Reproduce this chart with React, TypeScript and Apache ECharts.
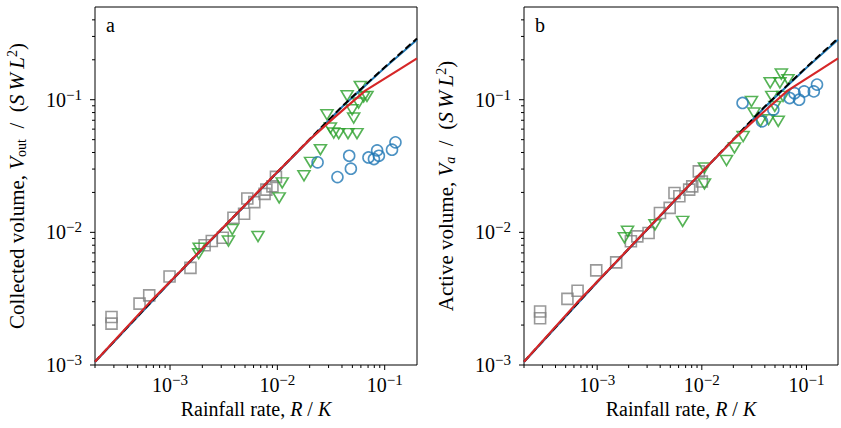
import React, { useEffect, useRef } from 'react';
import * as echarts from 'echarts';

const FONT = '"Liberation Serif", "Times New Roman", serif';

const X_MIN = 2e-4;
const X_MAX = 0.2;
const Y_MIN = 1e-3;
const Y_MAX = 0.5;

// panel a: collected volume
const aSquares = [
  [2.85e-4, 2.3e-3], [2.85e-4, 2.05e-3], [5.2e-4, 2.9e-3], [6.4e-4, 3.35e-3], [9.9e-4, 4.65e-3],
  [1.55e-3, 5.4e-3], [2.1e-3, 8.0e-3], [2.45e-3, 8.6e-3], [3.1e-3, 9.1e-3], [3.9e-3, 0.0129],
  [4.9e-3, 0.0138], [5.25e-3, 0.018], [6.1e-3, 0.0169], [7.6e-3, 0.0195], [7.9e-3, 0.021],
  [9.0e-3, 0.0222], [9.7e-3, 0.0262],
];
const aTriangles = [
  [1.87e-3, 7.6e-3], [1.85e-3, 6.9e-3], [3.5e-3, 8.6e-3], [3.8e-3, 0.0105], [6.6e-3, 9.3e-3],
  [0.0104, 0.0182], [0.0111, 0.0236], [0.0177, 0.0267], [0.0204, 0.0337], [0.0252, 0.042],
  [0.029, 0.077], [0.0312, 0.0612], [0.0335, 0.0561], [0.0373, 0.0555], [0.0455, 0.0555],
  [0.0552, 0.0555], [0.0447, 0.107], [0.0497, 0.084], [0.0514, 0.0728], [0.0593, 0.126],
  [0.0637, 0.105], [0.0571, 0.0944], [0.0684, 0.106],
];
const aCircles = [
  [0.0237, 0.0337], [0.0363, 0.0261], [0.0467, 0.0378], [0.0484, 0.0302], [0.0706, 0.0367],
  [0.085, 0.0415], [0.0883, 0.0378], [0.0794, 0.0357], [0.117, 0.042], [0.126, 0.0477],
];

// panel b: active volume
const bSquares = [
  [2.85e-4, 2.53e-3], [2.85e-4, 2.25e-3], [5.2e-4, 3.15e-3], [6.5e-4, 3.63e-3], [9.8e-4, 5.17e-3],
  [1.52e-3, 5.94e-3], [2.1e-3, 8.56e-3], [2.42e-3, 9.33e-3], [3.1e-3, 9.9e-3], [3.98e-3, 0.014],
  [4.93e-3, 0.0153], [5.48e-3, 0.0198], [6.1e-3, 0.0187], [7.57e-3, 0.021], [8.1e-3, 0.0222],
  [9.36e-3, 0.0288], [1.0e-2, 0.0242],
];
const bTriangles = [
  [1.95e-3, 0.0102], [1.82e-3, 9.1e-3], [3.57e-3, 0.0114], [6.56e-3, 0.0121], [0.0106, 0.0306],
  [0.0106, 0.0232], [0.0172, 0.0348], [0.0205, 0.0433], [0.0248, 0.0528], [0.0298, 0.097],
  [0.0315, 0.0794], [0.0363, 0.0687], [0.0434, 0.0707], [0.0537, 0.0687], [0.045, 0.134],
  [0.0575, 0.156], [0.0466, 0.106], [0.0557, 0.134], [0.0498, 0.089], [0.0665, 0.1416],
  [0.0597, 0.106],
];
const bCircles = [
  [0.0245, 0.0945], [0.0376, 0.0687], [0.0482, 0.084], [0.069, 0.103], [0.0768, 0.112],
  [0.085, 0.1], [0.095, 0.1155], [0.1175, 0.1155], [0.126, 0.13],
];

// model curves
const blackFit = [
  [2e-4, 1.06e-3], [1e-3, 4.24e-3], [1e-2, 0.0285], [0.04, 0.089], [0.1, 0.176], [0.2, 0.29],
];
const blueFit = [
  [2e-4, 1.05e-3], [1e-3, 4.2e-3], [1e-2, 0.0283], [0.04, 0.088], [0.1, 0.174], [0.2, 0.283],
];
const redFit = [
  [2e-4, 1.06e-3], [6.4e-4, 2.94e-3], [1e-3, 4.24e-3], [1e-2, 0.0285], [0.02, 0.05],
  [0.033, 0.072], [0.066, 0.117], [0.135, 0.168], [0.2, 0.205],
];

const xMajorTicks = [1e-3, 1e-2, 1e-1];
const xMinorTicks = [
  2e-4, 3e-4, 4e-4, 5e-4, 6e-4, 7e-4, 8e-4, 9e-4,
  2e-3, 3e-3, 4e-3, 5e-3, 6e-3, 7e-3, 8e-3, 9e-3,
  2e-2, 3e-2, 4e-2, 5e-2, 6e-2, 7e-2, 8e-2, 9e-2,
];
const yMajorTicks = [1e-3, 1e-2, 1e-1];
const yMinorTicks = [
  2e-3, 3e-3, 4e-3, 5e-3, 6e-3, 7e-3, 8e-3, 9e-3,
  2e-2, 3e-2, 4e-2, 5e-2, 6e-2, 7e-2, 8e-2, 9e-2,
  2e-1, 3e-1, 4e-1,
];

// [x, y, kind (0 = x axis, 1 = y axis), length]
const tickData = [
  ...xMajorTicks.map((v) => [v, Y_MIN, 0, 5]),
  ...xMinorTicks.map((v) => [v, Y_MIN, 0, 3]),
  ...yMajorTicks.map((v) => [X_MIN, v, 1, 5]),
  ...yMinorTicks.map((v) => [X_MIN, v, 1, 3]),
];

const decadeLabel = (v: number) => {
  const e = Math.log10(v);
  const r = Math.round(e);
  if (Math.abs(e - r) > 1e-6) return '';
  return `{b|10}{s|${r < 0 ? '\u2212' : ''}${Math.abs(r)}}`;
};

const labelRich = {
  b: { fontSize: 20, fontFamily: FONT, color: '#000' },
  s: { fontSize: 15, fontFamily: FONT, color: '#000', padding: [0, 0, 10, 0] },
};

const nameRich = (size: number) => ({
  n: { fontSize: size, fontFamily: FONT, color: '#000' },
  i: { fontSize: size, fontFamily: FONT, color: '#000', fontStyle: 'italic' },
  sub: { fontSize: 14, fontFamily: FONT, color: '#000', padding: [9, 0, 0, 0] },
  subi: { fontSize: 14, fontFamily: FONT, color: '#000', fontStyle: 'italic', padding: [9, 0, 0, 0] },
  sup: { fontSize: 14, fontFamily: FONT, color: '#000', padding: [0, 0, 10, 0] },
});

const renderTick = (params: any, api: any) => {
  const cs = params.coordSys;
  const kind = api.value(2);
  const len = api.value(3);
  const p = api.coord([api.value(0), api.value(1)]);
  const shape = kind === 0
    ? { x1: p[0], y1: cs.y + cs.height, x2: p[0], y2: cs.y + cs.height + len }
    : { x1: cs.x, y1: p[1], x2: cs.x - len, y2: p[1] };
  return { type: 'line', shape, style: { stroke: '#000', lineWidth: 1 } };
};

const App = () => {
  const chartRef = useRef<HTMLDivElement>(null);

  useEffect(() => {
    if (!chartRef.current) return;
    const chart = echarts.init(chartRef.current, null, { renderer: 'svg' });

    const panels = [
      { squares: aSquares, triangles: aTriangles, circles: aCircles, left: 95,
        yName: '{n|Collected volume, }{i|V}{sub|out}{n|  /  (}{i|S\u2009W\u2009L}{sup|2}{n|)}', letter: 'a' },
      { squares: bSquares, triangles: bTriangles, circles: bCircles, left: 524,
        yName: '{n|Active volume, }{i|V}{subi|a}{n|  /  (}{i|S\u2009W\u2009L}{sup|2}{n|)}', letter: 'b' },
    ];

    const series: any[] = [];
    panels.forEach((p, i) => {
      const ax = { xAxisIndex: i, yAxisIndex: i };
      const hollow = (color: string) => ({ color: 'rgba(0,0,0,0)', borderColor: color, borderWidth: 1.6 });
      series.push(
        { type: 'scatter', ...ax, data: p.squares, symbol: 'rect', symbolSize: 11, itemStyle: hollow('#7f7f7f') },
        { type: 'scatter', ...ax, data: p.triangles, symbol: 'triangle', symbolRotate: 180, symbolSize: [12, 10], itemStyle: hollow('#2ca02c') },
        { type: 'scatter', ...ax, data: p.circles, symbol: 'circle', symbolSize: 11, itemStyle: hollow('#1f77b4') },
        { type: 'line', ...ax, data: blueFit, showSymbol: false, lineStyle: { color: '#1f77b4', width: 2 } },
        { type: 'line', ...ax, data: blackFit, showSymbol: false, lineStyle: { color: '#000', width: 2, type: [7, 3.5] } },
        { type: 'line', ...ax, data: redFit, showSymbol: false, lineStyle: { color: '#d62728', width: 2.2 } },
        { type: 'custom', ...ax, data: tickData, renderItem: renderTick, clip: false, silent: true },
      );
    });

    const option: any = {
      animation: false,
      textStyle: { fontFamily: FONT },
      grid: panels.map((p) => ({
        left: p.left, top: 7, width: 322, height: 358,
        show: true, borderColor: '#000', borderWidth: 1, backgroundColor: 'transparent',
      })),
      xAxis: panels.map((_, i) => ({
        type: 'log', logBase: 10, gridIndex: i, min: X_MIN, max: X_MAX,
        axisLine: { show: false }, axisTick: { show: false }, splitLine: { show: false },
        axisLabel: { formatter: decadeLabel, margin: 7, rich: labelRich },
        name: '{n|Rainfall rate, }{i|R}{n| / }{i|K}',
        nameLocation: 'middle', nameGap: 33,
        nameTextStyle: { rich: nameRich(20) },
      })),
      yAxis: panels.map((p, i) => ({
        type: 'log', logBase: 10, gridIndex: i, min: Y_MIN, max: Y_MAX,
        axisLine: { show: false }, axisTick: { show: false }, splitLine: { show: false },
        axisLabel: { formatter: decadeLabel, margin: 13, rich: labelRich },
        name: p.yName,
        nameLocation: 'middle', nameGap: 66,
        nameTextStyle: { rich: nameRich(21) },
      })),
      graphic: panels.map((p) => ({
        type: 'text', left: p.left + 11, top: 15,
        style: { text: p.letter, font: `20px ${FONT}`, fill: '#000' },
      })),
      series,
    };

    chart.setOption(option);
    return () => chart.dispose();
  }, []);

  return (
    <div
      ref={chartRef}
      style={{ position: 'fixed', left: 0, top: 0, width: '841px', height: '428px', background: '#fff' }}
    />
  );
};

export default App;
